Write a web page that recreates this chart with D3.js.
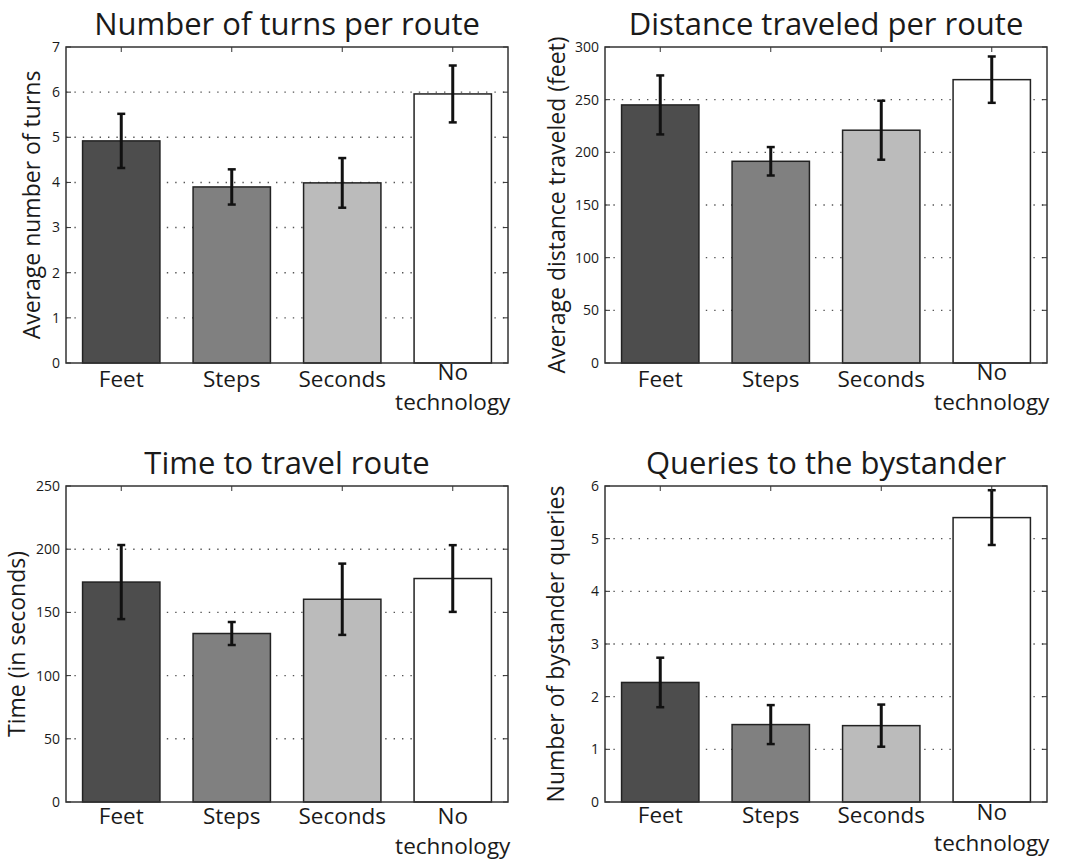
<!DOCTYPE html>
<html>
<head>
<meta charset="utf-8">
<script src="https://cdn.jsdelivr.net/npm/d3@7"></script>
<style>
  body { margin: 0; background: #fff; }
  text { font-family: "Open Sans", sans-serif; fill: #1a1a1a; }
</style>
</head>
<body>
<script>
// categories shared by all four panels
var categories = ["Feet", "Steps", "Seconds", "No technology"];
var barColors = ["#4d4d4d", "#808080", "#bbbbbb", "#ffffff"];

// number of turns per route
var turnsMean = [4.92, 3.90, 3.99, 5.96];
var turnsErr = [0.60, 0.39, 0.55, 0.63];

// distance traveled per route (feet)
var distMean = [245, 191.5, 221, 269];
var distErr = [28, 13.5, 28, 22];

// time to travel route (seconds)
var timeMean = [174, 133.3, 160.4, 176.8];
var timeErr = [29.3, 9.1, 28.2, 26.4];

// queries to the bystander
var queryMean = [2.27, 1.47, 1.45, 5.40];
var queryErr = [0.47, 0.37, 0.40, 0.52];

var width = 1072;
var height = 863;

var svg = d3.select("body")
  .append("svg")
  .attr("width", width)
  .attr("height", height);

// one entry per panel
var panels = [
  { title: "Number of turns per route", ylabel: "Average number of turns",
    mean: turnsMean, err: turnsErr, ymax: 7, step: 1,
    left: 66, top: 47, titleY: 35, ylabelX: 32, lab: 24, no: 17, tech: 47 },
  { title: "Distance traveled per route", ylabel: "Average distance traveled (feet)",
    mean: distMean, err: distErr, ymax: 300, step: 50,
    left: 605, top: 47, titleY: 35, ylabelX: 557, lab: 24, no: 17, tech: 47 },
  { title: "Time to travel route", ylabel: "Time (in seconds)",
    mean: timeMean, err: timeErr, ymax: 250, step: 50,
    left: 66, top: 486, titleY: 474, ylabelX: 17, lab: 22, no: 22, tech: 52 },
  { title: "Queries to the bystander", ylabel: "Number of bystander queries",
    mean: queryMean, err: queryErr, ymax: 6, step: 1,
    left: 605, top: 486, titleY: 474, ylabelX: 556, lab: 21, no: 18, tech: 49 }
];

var pw = 442;
var ph = 316;

panels.forEach(function (p) {
  var g = svg.append("g")
    .attr("transform", "translate(" + p.left + "," + p.top + ")");

  var x = d3.scaleBand()
    .domain(categories)
    .range([0, pw])
    .paddingInner(0.3)
    .paddingOuter(0.15);

  var y = d3.scaleLinear()
    .domain([0, p.ymax])
    .range([ph, 0]);

  var ticks = d3.range(0, p.ymax + p.step / 2, p.step);

  // dotted grid lines behind the bars
  g.selectAll(".grid")
    .data(ticks.filter(function (t) { return t > 0 && t < p.ymax; }))
    .enter()
    .append("line")
    .attr("x1", 0)
    .attr("x2", pw)
    .attr("y1", function (d) { return y(d); })
    .attr("y2", function (d) { return y(d); })
    .style("stroke", "#555")
    .style("stroke-width", 1.4)
    .style("stroke-dasharray", "1.4,7");

  // bars
  g.selectAll(".bar")
    .data(p.mean)
    .enter()
    .append("rect")
    .attr("x", function (d, i) { return x(categories[i]); })
    .attr("y", function (d) { return y(d); })
    .attr("width", x.bandwidth())
    .attr("height", function (d) { return ph - y(d); })
    .style("fill", function (d, i) { return barColors[i]; })
    .style("stroke", "#222")
    .style("stroke-width", 1.5);

  // error bars
  var eb = g.selectAll(".err")
    .data(p.mean)
    .enter()
    .append("g")
    .attr("transform", function (d, i) {
      return "translate(" + (x(categories[i]) + x.bandwidth() / 2) + ",0)";
    });
  eb.append("line")
    .attr("y1", function (d, i) { return y(d - p.err[i]); })
    .attr("y2", function (d, i) { return y(d + p.err[i]); })
    .style("stroke", "#111")
    .style("stroke-width", 3);
  [-1, 1].forEach(function (s) {
    eb.append("line")
      .attr("x1", -4)
      .attr("x2", 4)
      .attr("y1", function (d, i) { return y(d + s * p.err[i]); })
      .attr("y2", function (d, i) { return y(d + s * p.err[i]); })
      .style("stroke", "#111")
      .style("stroke-width", 2.5);
  });

  // inward ticks on all four sides
  var tickLen = 5;
  g.selectAll(".ytickL")
    .data(ticks)
    .enter()
    .append("line")
    .attr("x1", 0).attr("x2", tickLen)
    .attr("y1", function (d) { return y(d); })
    .attr("y2", function (d) { return y(d); })
    .style("stroke", "#333");
  g.selectAll(".ytickR")
    .data(ticks)
    .enter()
    .append("line")
    .attr("x1", pw - tickLen).attr("x2", pw)
    .attr("y1", function (d) { return y(d); })
    .attr("y2", function (d) { return y(d); })
    .style("stroke", "#333");
  g.selectAll(".xtickT")
    .data(categories)
    .enter()
    .append("line")
    .attr("x1", function (d) { return x(d) + x.bandwidth() / 2; })
    .attr("x2", function (d) { return x(d) + x.bandwidth() / 2; })
    .attr("y1", 0).attr("y2", tickLen)
    .style("stroke", "#333");

  // axis box
  g.append("rect")
    .attr("width", pw)
    .attr("height", ph)
    .style("fill", "none")
    .style("stroke", "#333")
    .style("stroke-width", 1.5);

  // y tick labels
  g.selectAll(".ylab")
    .data(ticks)
    .enter()
    .append("text")
    .attr("x", -6)
    .attr("y", function (d) { return y(d); })
    .attr("dy", "0.35em")
    .attr("text-anchor", "end")
    .style("font-size", "14px")
    .text(function (d) { return d; });

  // category labels (two separate lines for the last one)
  categories.forEach(function (d) {
    var cx = x(d) + x.bandwidth() / 2;
    var lines = d === "No technology" ? [["No", p.no], ["technology", p.tech]] : [[d, p.lab]];
    lines.forEach(function (l) {
      g.append("text")
        .attr("x", cx)
        .attr("y", ph + l[1])
        .attr("text-anchor", "middle")
        .style("font-size", "22.5px")
        .text(l[0]);
    });
  });

  // title
  svg.append("text")
    .attr("x", p.left + pw / 2)
    .attr("y", p.titleY)
    .attr("text-anchor", "middle")
    .style("font-size", "31px")
    .text(p.title);

  // y axis label
  svg.append("text")
    .attr("transform", "translate(" + p.ylabelX + "," + (p.top + ph / 2) + ") rotate(-90)")
    .attr("text-anchor", "middle")
    .attr("dy", "0.35em")
    .style("font-size", "23px")
    .text(p.ylabel);
});
</script>
</body>
</html>
